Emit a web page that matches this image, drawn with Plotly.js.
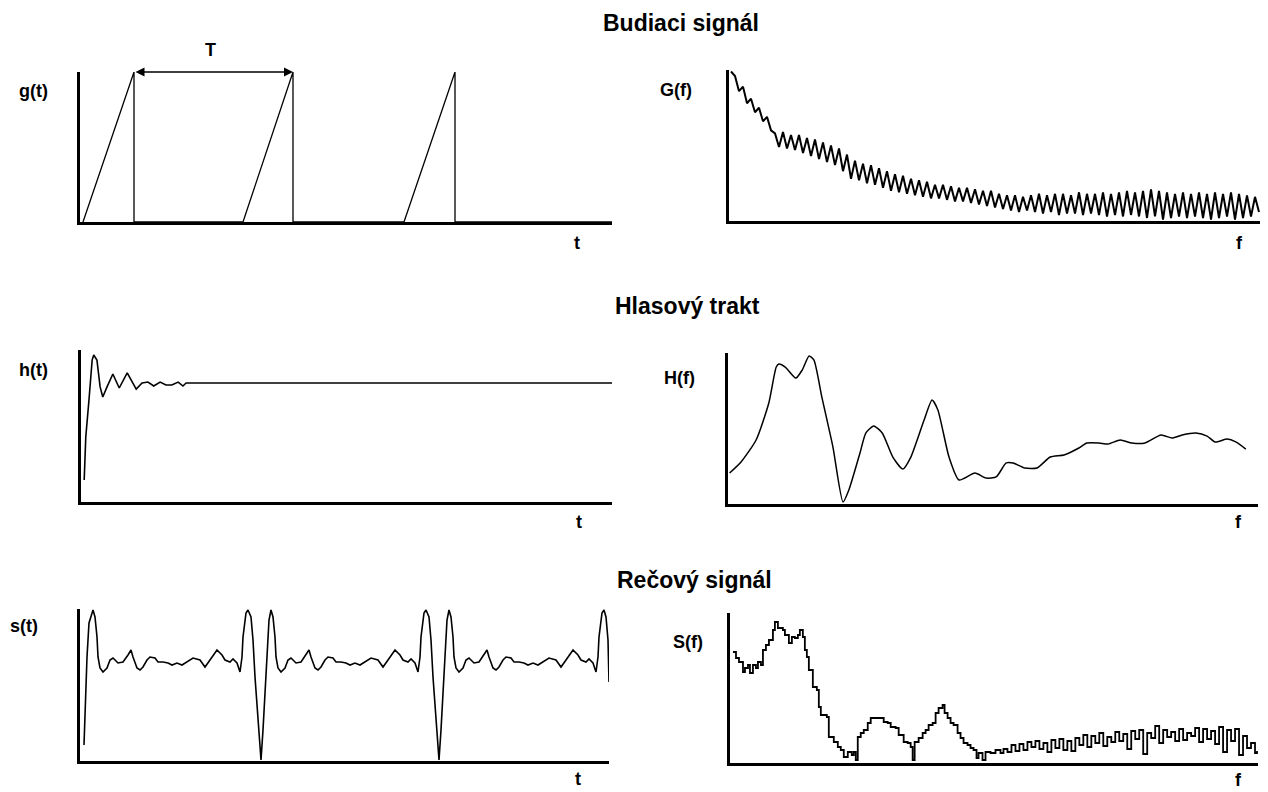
<!DOCTYPE html>
<html>
<head>
<meta charset="utf-8">
<script src="https://cdn.plot.ly/plotly-3.0.1.min.js"></script>
<style>html,body{margin:0;padding:0;background:#fff;}#chart{width:1268px;height:792px;}</style>
</head>
<body>
<div id="chart"></div>
<script>
// ---------- data (arbitrary schematic units) ----------
// g(t): glottal excitation, periodic ramps
const gT = [3, 54, 54, 163, 213, 213, 324, 375, 375, 532];
const gVal = [0, 150, 0, 0, 150, 0, 0, 150, 0, 0];

// G(f): spectrum of the excitation (harmonic teeth), equally spaced samples
const GVal = [99,96,86,89,78,81,72,75,66,69,60,
  58,49,59,48,57,47,57,45,55,43,54,41,52,39,50,37,48,33,44,28,40,27,38,25,37,24,35,22,33,20,
  31,19,30,18,28,17,27,16,26,15,24,15,24,14,23,13,22,13,22,12,21,11,20,10,20,9,18,8,17,7,
  17,6,16,7,17,6,18,5,17,6,18,4,18,5,17,5,19,4,18,5,18,4,19,3,18,4,19,3,20,4,19,3,20,2,
  21,3,20,1,19,2,18,3,19,2,18,3,19,2,18,1,19,2,18,3,19,1,18,2,17,3,16,6];

// h(t): impulse response of the vocal tract (percent of axis)
const hT = [0.6,0.7,0.9,1.5,2.1,2.4,3.0,3.6,4.1,4.9,6.0,7.2,8.7,10.4,11.5,12.6,13.7,14.9,16.0,17.1,18.3,19.2,19.8,100];
const hVal = [14.5,30.0,42.8,67.1,93.4,96.7,93.4,75.7,69.1,75.7,84.2,75.0,84.9,74.3,78.3,78.9,76.3,78.9,77.0,77.0,78.9,76.3,78.3,78.3];

// H(f): transfer function of the vocal tract (percent of axis)
const HF = [0.3,2.5,5.3,7.7,9.1,9.6,10.8,12.8,14.0,15.3,16.2,17.7,19.8,21.7,22.8,24.9,26.0,27.5,29.1,31.1,33.0,34.5,37.0,38.5,39.6,41.7,43.6,46.6,48.7,50.6,52.5,53.8,56.0,58.3,60.8,63.4,66.2,67.7,70.0,71.7,74.0,76.2,78.7,81.7,83.8,85.7,88.3,90.4,91.9,94.2,95.8,97.7];
const HVal = [20.5,28.0,42.4,66.9,90.7,92.7,90.7,83.4,88.7,98.0,95.4,70.9,37.7,1.3,9.3,33.8,47.0,51.7,47.0,31.1,23.2,31.1,55.6,68.9,62.3,31.1,15.9,20.5,17.2,17.9,27.2,27.2,23.8,23.8,31.1,32.5,37.1,40.4,40.4,39.7,42.4,40.4,40.4,45.7,43.7,45.7,47.0,45.0,41.1,43.0,41.1,36.4];

// s(t): speech signal
const sT = [4,5,6,7,9,
  13,15,17,18,20,23,27,30,33,38,43,48,51,53,57,60,63,67,70,75,78,83,88,92,97,102,107,113,120,125,130,137,142,145,150,153,157,160,162,163,166,168,171,173,175,177,179,181,183,185,187,189,
  191,193,195,196,198,201,205,208,211,216,221,226,229,231,235,238,241,245,248,253,256,261,266,270,275,280,285,291,298,303,308,315,320,323,328,331,335,338,340,341,344,346,349,351,353,355,357,359,361,363,365,367,
  369,371,373,374,376,379,383,386,389,394,399,404,407,409,413,416,419,423,426,431,434,439,444,448,453,458,463,469,476,481,486,493,498,501,506,509,513,516,518,519,522,524,
  526,528,529];
const sVal = [16,44,74,104,138,
  151,144,124,104,93,89,93,101,103,98,99,106,111,104,93,91,94,101,104,103,99,99,98,96,98,96,99,103,101,94,101,111,106,101,99,102,98,89,104,124,148,151,144,121,84,54,24,1,31,64,104,141,
  151,144,124,104,93,89,93,101,103,98,99,106,111,104,93,91,94,101,104,103,99,99,98,96,98,96,99,103,101,94,101,111,106,101,99,102,98,89,104,124,148,151,144,121,84,54,24,1,31,64,104,141,
  151,144,124,104,93,89,93,101,103,98,99,106,111,104,93,91,94,101,104,103,99,99,98,96,98,96,99,103,101,94,101,111,106,101,99,102,98,89,104,124,148,151,
  144,121,79];

// S(f): speech spectrum
const SF = [3,6,9,13,15,18,20,23,26,28,31,33,36,39,43,45,48,53,55,59,62,65,68,70,73,75,77,79,83,87,89,91,97,99,104,108,111,114,118,122,124,126,128,131,134,138,141,146,151,154,158,161,166,169,174,178,181,183,185,189,193,196,199,203,206,209,213,215,218,221,224,228,231,234,238,241,244,247,249,253,256,261,266,271,
  274,278,282,286,290,294,298,302,306,310,314,318,322,326,330,334,338,342,346,350,354,358,362,366,370,374,378,382,386,390,394,398,402,406,410,414,418,422,426,430,434,438,442,446,450,454,458,462,466,470,474,478,482,486,490,494,498,502,506,510,514,518,522,526,528];
const SVal = [111,105,101,91,95,98,90,98,95,101,98,113,118,123,133,141,135,133,128,120,126,125,128,133,126,113,106,93,76,73,56,48,46,26,21,16,13,6,11,8,11,3,26,30,33,40,45,45,45,41,40,36,35,28,21,20,16,3,21,25,30,33,38,40,50,55,58,50,45,40,38,30,25,20,18,15,13,5,10,3,11,10,13,10,
  14,11,18,12,19,13,21,16,22,14,20,11,23,15,24,13,22,12,25,18,28,16,27,20,30,17,26,21,31,22,29,14,32,24,33,9,30,25,37,20,33,26,31,22,34,23,30,27,35,21,34,24,32,19,36,11,33,22,34,8,27,15,20,10,12];

// ---------- labels ----------
const sectionTitles = ['Budiaci signál', 'Hlasový trakt', 'Rečový signál'];
const yLabels = ['g(t)', 'G(f)', 'h(t)', 'H(f)', 's(t)', 'S(f)'];
const xLabels = ['t', 'f', 't', 'f', 't', 'f'];
const periodLabel = 'T';

// ---------- layout geometry (pixels) ----------
const W = 1268, H = 792;
const boxes = [ // left, right, top, bottom of each panel
  [80, 612, 72, 222],
  [729, 1260, 70, 221],
  [81, 612, 350, 502],
  [728, 1258, 353, 504],
  [80, 609, 609, 761],
  [730, 1258, 613, 763]
];
const ranges = [
  [[0, 532], [0, 150]],
  [[-0.5, GVal.length - 0.75], [0, 100]],
  [[0, 100], [0, 100]],
  [[0, 100], [0, 100]],
  [[0, 529], [0, 152]],
  [[0, 529], [0, 150]]
];
const px2x = p => p / W;
const px2y = p => 1 - p / H;

const line = (w) => ({color: '#000', width: w});
const traces = [
  {x: gT, y: gVal, xaxis: 'x', yaxis: 'y', mode: 'lines', line: line(1.3)},
  {x: GVal.map((_, i) => i), y: GVal, xaxis: 'x2', yaxis: 'y2', mode: 'lines', line: line(2)},
  {x: hT, y: hVal, xaxis: 'x3', yaxis: 'y3', mode: 'lines', line: line(1.6)},
  {x: HF, y: HVal, xaxis: 'x4', yaxis: 'y4', mode: 'lines', line: Object.assign(line(1.5), {shape: 'spline', smoothing: 0.6})},
  {x: sT, y: sVal, xaxis: 'x5', yaxis: 'y5', mode: 'lines', line: line(1.6)},
  {x: SF, y: SVal, xaxis: 'x6', yaxis: 'y6', mode: 'lines', line: Object.assign(line(1.8), {shape: 'hv'})}
];
traces.forEach(t => { t.showlegend = false; t.hoverinfo = 'skip'; t.cliponaxis = false; });

const layout = {
  width: W, height: H, autosize: false,
  margin: {l: 0, r: 0, t: 0, b: 0, pad: 0},
  paper_bgcolor: '#fff', plot_bgcolor: '#fff',
  showlegend: false,
  annotations: [],
  font: {family: 'Liberation Sans, Arial, sans-serif', color: '#000'}
};
boxes.forEach((b, k) => {
  const n = k === 0 ? '' : String(k + 1);
  layout['xaxis' + n] = {
    domain: [px2x(b[0]), px2x(b[1])], range: ranges[k][0],
    showgrid: false, zeroline: false, showticklabels: false, ticks: '',
    showline: true, linecolor: '#000', linewidth: 3, anchor: 'y' + n, fixedrange: true
  };
  layout['yaxis' + n] = {
    domain: [px2y(b[3]), px2y(b[2])], range: ranges[k][1],
    showgrid: false, zeroline: false, showticklabels: false, ticks: '',
    showline: true, linecolor: '#000', linewidth: 3, anchor: 'x' + n, fixedrange: true
  };
});

const txt = (s, xp, yp, size) => ({
  text: '<b>' + s + '</b>', xref: 'paper', yref: 'paper', x: px2x(xp), y: px2y(yp),
  xanchor: 'center', yanchor: 'middle', showarrow: false,
  font: {family: 'Liberation Sans, Arial, sans-serif', size: size, color: '#000'}
});
const titlePos = [[681, 23], [687, 306], [694, 580]];
sectionTitles.forEach((s, i) => layout.annotations.push(txt(s, titlePos[i][0], titlePos[i][1], 23)));
const yLabPos = [[33, 91], [676, 90], [33, 370], [679, 378], [24, 626], [688, 642]];
yLabels.forEach((s, i) => layout.annotations.push(txt(s, yLabPos[i][0], yLabPos[i][1], 18)));
const xLabPos = [[577, 243], [1239, 243], [579, 522], [1238, 522], [578, 779], [1238, 780]];
xLabels.forEach((s, i) => layout.annotations.push(txt(s, xLabPos[i][0], xLabPos[i][1], 18)));
layout.annotations.push(txt(periodLabel, 210, 50, 18));
// double arrow marking the period T between the first two pulse tops
layout.annotations.push({
  xref: 'x', yref: 'y', axref: 'x', ayref: 'y',
  x: gT[4], y: gVal[4], ax: gT[1], ay: gVal[1],
  text: '', showarrow: true, arrowside: 'end+start', arrowhead: 2, startarrowhead: 2,
  arrowsize: 1.2, startarrowsize: 1.2, arrowwidth: 1.5, arrowcolor: '#000'
});

Plotly.newPlot('chart', traces, layout, {staticPlot: true, displayModeBar: false});
</script>
</body>
</html>
